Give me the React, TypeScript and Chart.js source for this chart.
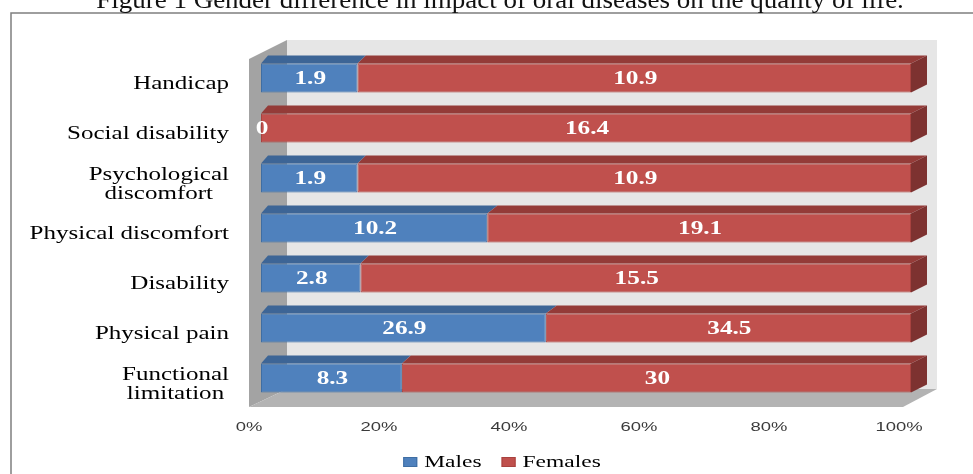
import React, { useEffect, useRef } from "react";
import { Chart, registerables } from "chart.js";
Chart.register(...registerables);

const TITLE = "Figure 1 Gender difference in impact of oral diseases on the quality of life.";
const categories: string[][] = [
  ["Handicap"],
  ["Social disability"],
  ["Psychological", "discomfort"],
  ["Physical discomfort"],
  ["Disability"],
  ["Physical pain"],
  ["Functional", "limitation"],
];
const males = [1.9, 0, 1.9, 10.2, 2.8, 26.9, 8.3];
const females = [10.9, 16.4, 10.9, 19.1, 15.5, 34.5, 30];
const xTicks = [0, 20, 40, 60, 80, 100];
const seriesNames = ["Males", "Females"];

const FRONT = ["#4f81bd", "#c0504d"];
const EDGE = ["#3f6ea3", "#a8423f"];
const TOP = ["#3d6596", "#943b38"];
const END = ["#33557e", "#7d3230"];

function sText(ctx: CanvasRenderingContext2D, text: string, x: number, y: number, align: string, stretch: number) {
  const w = ctx.measureText(text).width * stretch;
  const left = align === "left" ? x : align === "center" ? x - w / 2 : x - w;
  ctx.save();
  ctx.translate(left, y);
  ctx.scale(stretch, 1);
  ctx.textAlign = "left";
  ctx.fillText(text, 0, 0);
  ctx.restore();
  return w;
}

function poly(ctx: CanvasRenderingContext2D, pts: number[][], fill: string) {
  ctx.beginPath();
  ctx.moveTo(pts[0][0], pts[0][1]);
  for (let i = 1; i < pts.length; i++) ctx.lineTo(pts[i][0], pts[i][1]);
  ctx.closePath();
  ctx.fillStyle = fill;
  ctx.fill();
}

const threeD = {
  id: "threeD",
  beforeDraw(chart: any) {
    const ctx: CanvasRenderingContext2D = chart.ctx;
    ctx.save();
    ctx.fillStyle = "#fff";
    ctx.fillRect(0, 0, chart.width, chart.height);
    ctx.strokeStyle = "#7f7f7f";
    ctx.lineWidth = 1.5;
    ctx.strokeRect(11, 13, chart.width + 20, chart.height + 20);
    ctx.fillStyle = "#111";
    ctx.font = '25px "Liberation Serif"';
    ctx.textBaseline = "alphabetic";
    sText(ctx, TITLE, 500, 8, "center", 1.08);
    ctx.restore();
  },
  beforeDatasetsDraw(chart: any) {
    const ctx: CanvasRenderingContext2D = chart.ctx;
    const ca = chart.chartArea;
    const L = ca.left, R = ca.right, T = ca.top, B = ca.bottom;
    ctx.save();
    ctx.fillStyle = "#e6e6e6";
    ctx.fillRect(L + 26, T - 13, R - L, B - T - 1);
    poly(ctx, [[L - 12, T + 6], [L + 26, T - 13], [L + 26, B - 14], [L - 12, B + 4]], "#a3a3a3");
    poly(ctx, [[L - 12, B + 4], [L + 26, B - 14], [R + 26, B - 14], [R - 8, B + 4]], "#b3b3b3");
    ctx.restore();
  },
  afterDatasetsDraw(chart: any) {
    const ctx: CanvasRenderingContext2D = chart.ctx;
    const ca = chart.chartArea;
    const L = ca.left, R = ca.right;
    const dx = (x: number) => 7 + (9 * (x - L)) / (R - L);
    const dy = 8;
    ctx.save();
    const nDs = chart.data.datasets.length;
    for (let d = 0; d < nDs; d++) {
      const meta = chart.getDatasetMeta(d);
      meta.data.forEach((el: any) => {
        const p = el.getProps(["x", "y", "base", "height"], true);
        const xs = Math.min(p.x, p.base), xe = Math.max(p.x, p.base);
        const yT = p.y - p.height / 2, yB = p.y + p.height / 2;
        if (xe - xs > 0.01) {
          poly(ctx, [[xs, yT], [xe, yT], [xe + dx(xe), yT - dy], [xs + dx(xs), yT - dy]], TOP[d]);
          if (d === nDs - 1) {
            poly(ctx, [[xe, yT], [xe + dx(xe), yT - dy], [xe + dx(xe), yB - dy], [xe, yB]], END[d]);
          }
        }
      });
    }
    // data labels
    ctx.fillStyle = "#fff";
    ctx.font = 'bold 19px "Liberation Serif"';
    ctx.textBaseline = "alphabetic";
    const raw = [males, females];
    for (let d = 0; d < nDs; d++) {
      const meta = chart.getDatasetMeta(d);
      meta.data.forEach((el: any, i: number) => {
        const p = el.getProps(["x", "y", "base"], true);
        sText(ctx, String(raw[d][i]), (p.x + p.base) / 2 + 1, p.y + 6, "center", 1.33);
      });
    }
    ctx.restore();
  },
  afterDraw(chart: any) {
    const ctx: CanvasRenderingContext2D = chart.ctx;
    const xs = chart.scales.x, ys = chart.scales.y;
    ctx.save();
    ctx.textBaseline = "alphabetic";
    // y labels
    ctx.fillStyle = "#000";
    ctx.font = '18px "Liberation Serif"';
    const yStretch = 1.39;
    const rightX = chart.chartArea.left - 32;
    categories.forEach((lines, i) => {
      const c = ys.getPixelForValue(i);
      const maxW = Math.max(...lines.map((l) => ctx.measureText(l).width * yStretch));
      lines.forEach((line, j) => {
        const by = c + 11 + (j - (lines.length - 1) / 2) * 19;
        sText(ctx, line, rightX - maxW / 2, by, "center", yStretch);
      });
    });
    // x ticks
    ctx.fillStyle = "#3a3a3a";
    ctx.font = '13px "Liberation Sans"';
    xTicks.forEach((v) => {
      sText(ctx, v + "%", xs.getPixelForValue(v) - 12, chart.chartArea.bottom + 28, "center", 1.42);
    });
    // legend
    ctx.font = '17px "Liberation Serif"';
    const lStretch = 1.38;
    const boxW = 14, boxH = 10, gapBT = 7, gapItem = 20;
    const widths = seriesNames.map((n) => ctx.measureText(n).width * lStretch);
    const total = widths.reduce((a, w) => a + boxW + gapBT + w, 0) + gapItem * (seriesNames.length - 1);
    let x = 502 - total / 2;
    const baseY = chart.height - 7;
    seriesNames.forEach((n, i) => {
      ctx.fillStyle = FRONT[i];
      ctx.fillRect(x, baseY - 10, boxW, boxH);
      ctx.strokeStyle = EDGE[i];
      ctx.lineWidth = 1;
      ctx.strokeRect(x + 0.5, baseY - 9.5, boxW - 1, boxH - 1);
      x += boxW + gapBT;
      ctx.fillStyle = "#000";
      sText(ctx, n, x, baseY, "left", lStretch);
      x += widths[i] + gapItem;
    });
    ctx.restore();
  },
};

export default function App() {
  const ref = useRef<HTMLCanvasElement>(null);
  useEffect(() => {
    const canvas = ref.current!;
    const malesPct = males.map((m, i) => (m / (m + females[i])) * 100);
    const femalesPct = females.map((f, i) => (f / (males[i] + f)) * 100);
    const chart = new Chart(canvas, {
      type: "bar",
      data: {
        labels: categories.map((c) => c.join(" ")),
        datasets: [
          { label: seriesNames[0], data: malesPct, backgroundColor: FRONT[0], borderColor: EDGE[0], borderWidth: 1, borderSkipped: false },
          { label: seriesNames[1], data: femalesPct, backgroundColor: FRONT[1], borderColor: EDGE[1], borderWidth: 1, borderSkipped: false },
        ],
      },
      options: {
        indexAxis: "y",
        animation: false,
        responsive: false,
        layout: { padding: { left: 261, right: 62, top: 53, bottom: 71 } },
        scales: {
          x: { display: false, stacked: true, min: 0, max: 100 },
          y: { display: false, stacked: true },
        },
        datasets: { bar: { categoryPercentage: 1, barPercentage: 0.58 } },
        plugins: { legend: { display: false }, tooltip: { enabled: false }, title: { display: false } },
      } as any,
      plugins: [threeD as any],
    });
    return () => chart.destroy();
  }, []);
  return (
    <div style={{ position: "absolute", left: 0, top: 0, width: 973, height: 474, background: "#fff" }}>
      <canvas ref={ref} width={973} height={474} style={{ display: "block" }} />
    </div>
  );
}
